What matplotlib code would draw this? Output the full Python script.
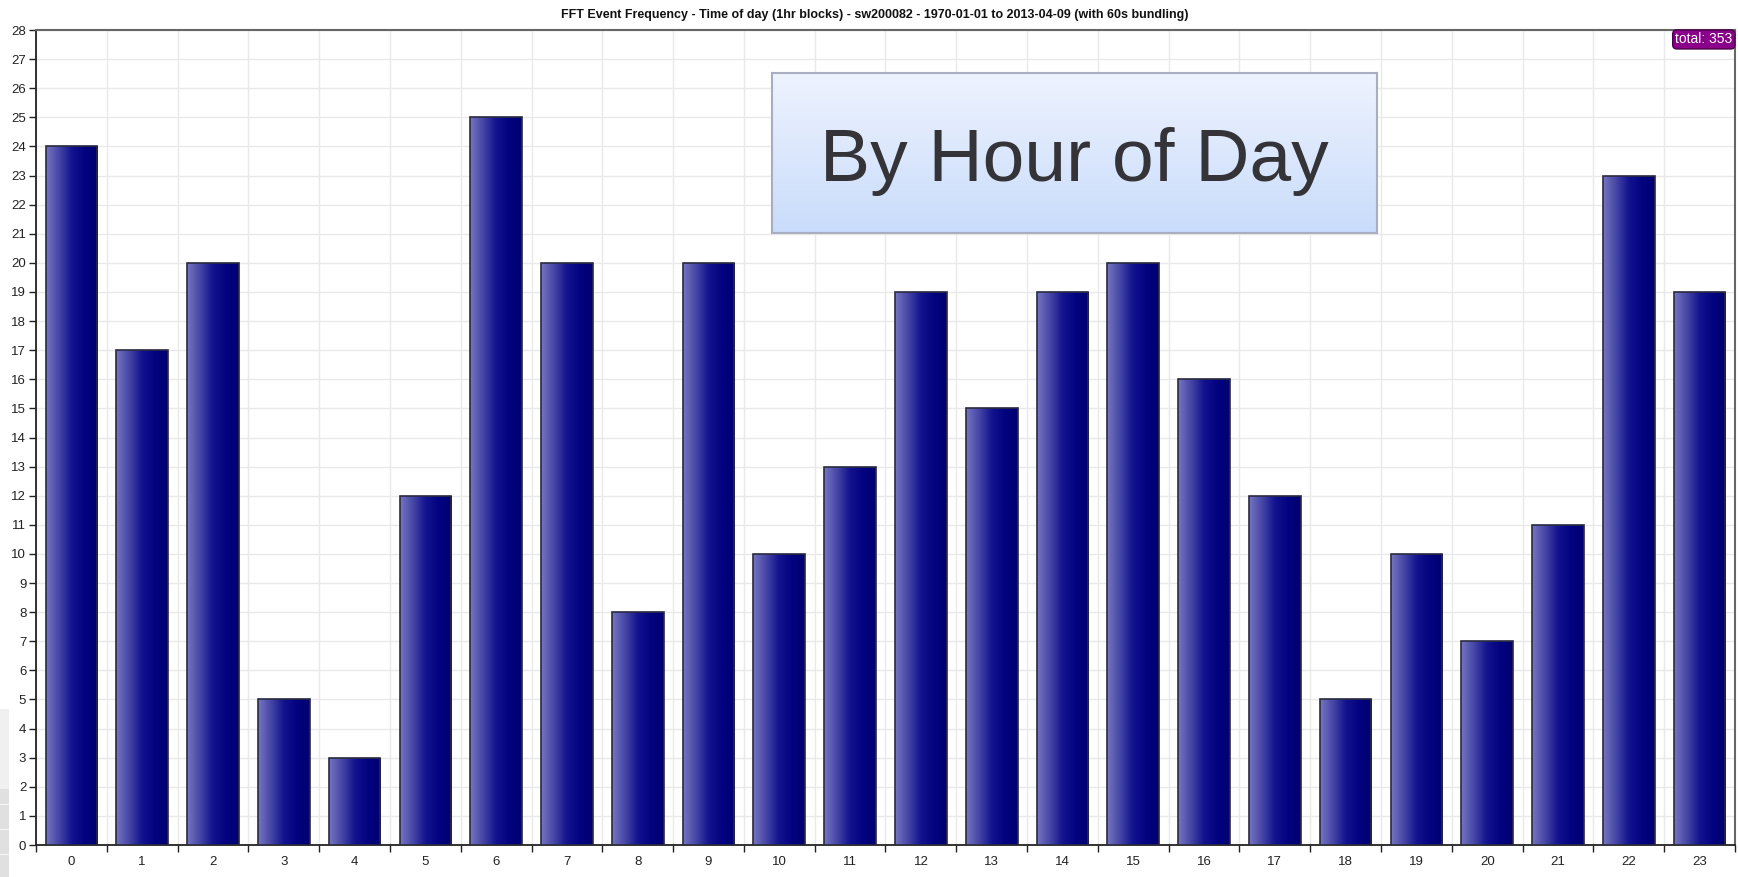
import numpy as np
import matplotlib
matplotlib.use("Agg")
import matplotlib.pyplot as plt
from matplotlib.colors import LinearSegmentedColormap
from matplotlib.patches import Rectangle

plt.rcParams['font.family'] = ['Liberation Sans', 'DejaVu Sans']

hours = [str(h) for h in range(24)]
counts = [24, 17, 20, 5, 3, 12, 25, 20, 8, 20, 10, 13, 19, 15, 19, 20, 16, 12, 5, 10, 7, 11, 23, 19]
title = "FFT Event Frequency - Time of day (1hr blocks) - sw200082 - 1970-01-01 to 2013-04-09 (with 60s bundling)"
overlay_text = "By Hour of Day"
y_max = 28

W, H = 1738, 877
fig = plt.figure(figsize=(W / 100, H / 100), dpi=100)
fig.patch.set_facecolor('white')

ax = fig.add_axes([36 / W, 1 - 845 / H, (1735 - 36) / W, (845 - 30) / H])
x = np.arange(len(counts))
bars = ax.bar(x, counts, width=0.73, color='#000080', edgecolor='#2a2a40', linewidth=1.2, zorder=3)

bar_cmap = LinearSegmentedColormap.from_list(
    'bar', [(0.0, '#7676c2'), (0.25, '#4646a6'), (0.5, '#13138e'), (0.75, '#030380'), (1.0, '#000070')])
grad = np.linspace(0, 1, 256).reshape(1, -1)
for b in bars:
    bx, by = b.get_x(), b.get_y()
    bw, bh = b.get_width(), b.get_height()
    im = ax.imshow(grad, cmap=bar_cmap, aspect='auto', extent=[bx, bx + bw, by, by + bh],
                   zorder=3.5, interpolation='bilinear')
    im.set_clip_path(b)
    b.set_facecolor('none')
    b.set_zorder(4)

ax.set_xlim(-0.5, len(counts) - 0.5)
ax.set_ylim(0, y_max)
ax.set_yticks(np.arange(0, y_max + 1, 1))
ax.set_xticks(np.arange(-0.5, len(counts), 1))
ax.set_xticklabels([])
ax.set_xticks(x, minor=True)
ax.set_xticklabels(hours, minor=True)
ax.tick_params(axis='x', which='major', length=5, width=1, color='#222222', direction='out')
ax.tick_params(axis='x', which='minor', length=0, pad=8, labelsize=9.5, labelcolor='#222222')
ax.tick_params(axis='y', length=5, width=1, color='#222222', direction='out', labelsize=9.5,
               labelcolor='#222222', pad=2)
ax.grid(True, which='major', color='#e9e9e9', linewidth=1, zorder=0)
ax.set_axisbelow(True)
for s in ['left', 'bottom']:
    ax.spines[s].set_color('#222222')
    ax.spines[s].set_linewidth(1.3)
for s in ['top', 'right']:
    ax.spines[s].set_color('#666666')
    ax.spines[s].set_linewidth(1.5)

fig.text(875 / W, 1 - 15 / H, title, ha='center', va='center', fontsize=9.0, fontweight='bold', color='#111111')

# total badge
total = sum(counts)
ax.text(0.9985, 0.997, f"total: {total}", transform=ax.transAxes, ha='right', va='top',
        fontsize=10, color='white', zorder=10,
        bbox=dict(boxstyle='round,pad=0.18,rounding_size=0.3', fc='#8a008a', ec='#4a004a', lw=1))

# overlay label box with vertical gradient (light at top)
bx0, bx1, by0, by1 = 772, 1377, 73, 233
oax = fig.add_axes([bx0 / W, 1 - by1 / H, (bx1 - bx0) / W, (by1 - by0) / H])
box_cmap = LinearSegmentedColormap.from_list('box', ['#eef3fe', '#c9dcfb'])
oax.imshow(np.linspace(0, 1, 256).reshape(-1, 1), cmap=box_cmap, aspect='auto', extent=[0, 1, 0, 1],
           interpolation='bilinear', origin='upper')
oax.set_xlim(0, 1)
oax.set_ylim(0, 1)
oax.set_xticks([])
oax.set_yticks([])
for s in oax.spines.values():
    s.set_color('#a8adc0')
    s.set_linewidth(1.5)
oax.text(0.5, 0.45, overlay_text, ha='center', va='center', fontsize=54, color='#333338',
         transform=oax.transAxes)

# slide-edge artifacts at left
fig.patches.append(Rectangle((0, 0), 9 / W, 88 / H, transform=fig.transFigure, fc='#e0e0e0', ec='none'))
fig.patches.append(Rectangle((0, 88 / H), 9 / W, 80 / H, transform=fig.transFigure, fc='#f0f0f0', ec='none'))
for yy in [22, 47, 72]:
    fig.patches.append(Rectangle((0, yy / H), 9 / W, 1.5 / H, transform=fig.transFigure, fc='#f8f8f8', ec='none'))

fig.savefig('out.png', dpi=100)
